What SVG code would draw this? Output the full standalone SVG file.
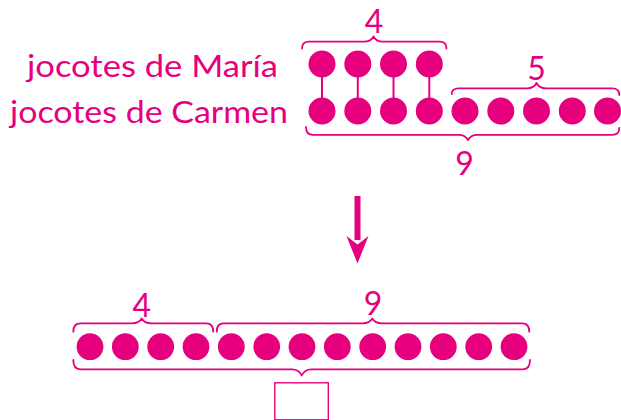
<svg xmlns="http://www.w3.org/2000/svg" width="621" height="420" viewBox="0 0 621 420">
<style>
.t{font-family:Lato,"Open Sans","Liberation Sans",sans-serif;fill:#E6007E;font-size:30px}
.n{font-family:Lato,"Open Sans","Liberation Sans",sans-serif;fill:#E6007E;font-size:32px;text-anchor:middle}
.b{fill:none;stroke:#E6007E;stroke-width:1.8;stroke-linecap:round;stroke-linejoin:round}
.d{fill:#E6007E}
.c{stroke:#E6007E;stroke-width:2}
</style>
<rect width="621" height="420" fill="#fff"/>
<g id="labels">
<text class="t" x="27" y="77.3" textLength="251" lengthAdjust="spacingAndGlyphs">jocotes de María</text>
<text class="t" x="10" y="123.3" textLength="278" lengthAdjust="spacingAndGlyphs">jocotes de Carmen</text>
</g>
<g id="connectors">
<line class="c" x1="322" y1="77" x2="322" y2="98"/>
<line class="c" x1="357.8" y1="77" x2="357.8" y2="98"/>
<line class="c" x1="393.5" y1="77" x2="393.5" y2="98"/>
<line class="c" x1="429.3" y1="77" x2="429.3" y2="98"/>
</g>
<g id="maria" class="d">
<circle cx="322" cy="64" r="13.5"/>
<circle cx="357.8" cy="64" r="13.5"/>
<circle cx="393.5" cy="64" r="13.5"/>
<circle cx="429.3" cy="64" r="13.5"/>
</g>
<g id="carmen" class="d">
<circle cx="322" cy="111" r="13.5"/>
<circle cx="357.8" cy="111" r="13.5"/>
<circle cx="393.5" cy="111" r="13.5"/>
<circle cx="429.3" cy="111" r="13.5"/>
<circle cx="465" cy="111" r="13.5"/>
<circle cx="500.8" cy="111" r="13.5"/>
<circle cx="536.5" cy="111" r="13.5"/>
<circle cx="572.3" cy="111" r="13.5"/>
<circle cx="607.5" cy="111" r="13.5"/>
</g>
<g id="top-braces">
<path class="b" d="M302,48.5 Q302,41.7 309,41.7 L364,41.7 Q371,41.7 373.5,36.5 Q376,41.7 383,41.7 L439.5,41.7 Q446.5,41.7 446.5,48.5"/>
<text class="n" x="374" y="33.3">4</text>
<path class="b" d="M451.7,94 Q451.7,88.3 458.7,88.3 L527,88.3 Q534,88.3 536.5,83 Q539,88.3 546,88.3 L612.3,88.3 Q619.3,88.3 619.3,95"/>
<text class="n" x="536.5" y="80">5</text>
<path class="b" d="M306,127 Q306,134.8 313,134.8 L458.5,134.8 Q465.5,134.8 468,140 Q470.5,134.8 477.5,134.8 L612.3,134.8 Q619.3,134.8 619.3,128"/>
<text class="n" x="464.5" y="175">9</text>
</g>
<g id="arrow" class="d">
<rect x="354.5" y="196" width="6" height="44"/>
<polygon points="346.5,236 357.5,244.5 368.5,236 357.5,263.5"/>
</g>
<g id="all" class="d">
<circle cx="90" cy="346.7" r="13.4"/>
<circle cx="125.3" cy="346.7" r="13.4"/>
<circle cx="160.7" cy="346.7" r="13.4"/>
<circle cx="196" cy="346.7" r="13.4"/>
<circle cx="231.3" cy="346.7" r="13.4"/>
<circle cx="266.7" cy="346.7" r="13.4"/>
<circle cx="302" cy="346.7" r="13.4"/>
<circle cx="337.3" cy="346.7" r="13.4"/>
<circle cx="372.7" cy="346.7" r="13.4"/>
<circle cx="408" cy="346.7" r="13.4"/>
<circle cx="443.3" cy="346.7" r="13.4"/>
<circle cx="478.7" cy="346.7" r="13.4"/>
<circle cx="514" cy="346.7" r="13.4"/>
</g>
<g id="bottom-braces">
<path class="b" d="M73.3,331.7 Q73.3,323.3 80.3,323.3 L132,323.3 Q139,323.3 141.7,318.5 Q144.4,323.3 151.4,323.3 L206.3,323.3 Q213.3,323.3 213.3,331.7"/>
<text class="n" x="141.7" y="317.3">4</text>
<path class="b" d="M216.7,331.7 Q216.7,323.3 223.7,323.3 L362.5,323.3 Q369.5,323.3 372.3,318.5 Q375,323.3 382,323.3 L522.3,323.3 Q529.3,323.3 529.3,331.7"/>
<text class="n" x="373" y="315">9</text>
<path class="b" d="M73.3,360 Q73.3,369.3 80.3,369.3 L292,369.3 Q299,369.3 301.7,375.5 Q304.4,369.3 311.4,369.3 L523,369.3 Q530,369.3 530,360"/>
<rect x="274.8" y="382.8" width="53.5" height="37" fill="none" stroke="#E6007E" stroke-width="1.4"/>
</g>
</svg>
